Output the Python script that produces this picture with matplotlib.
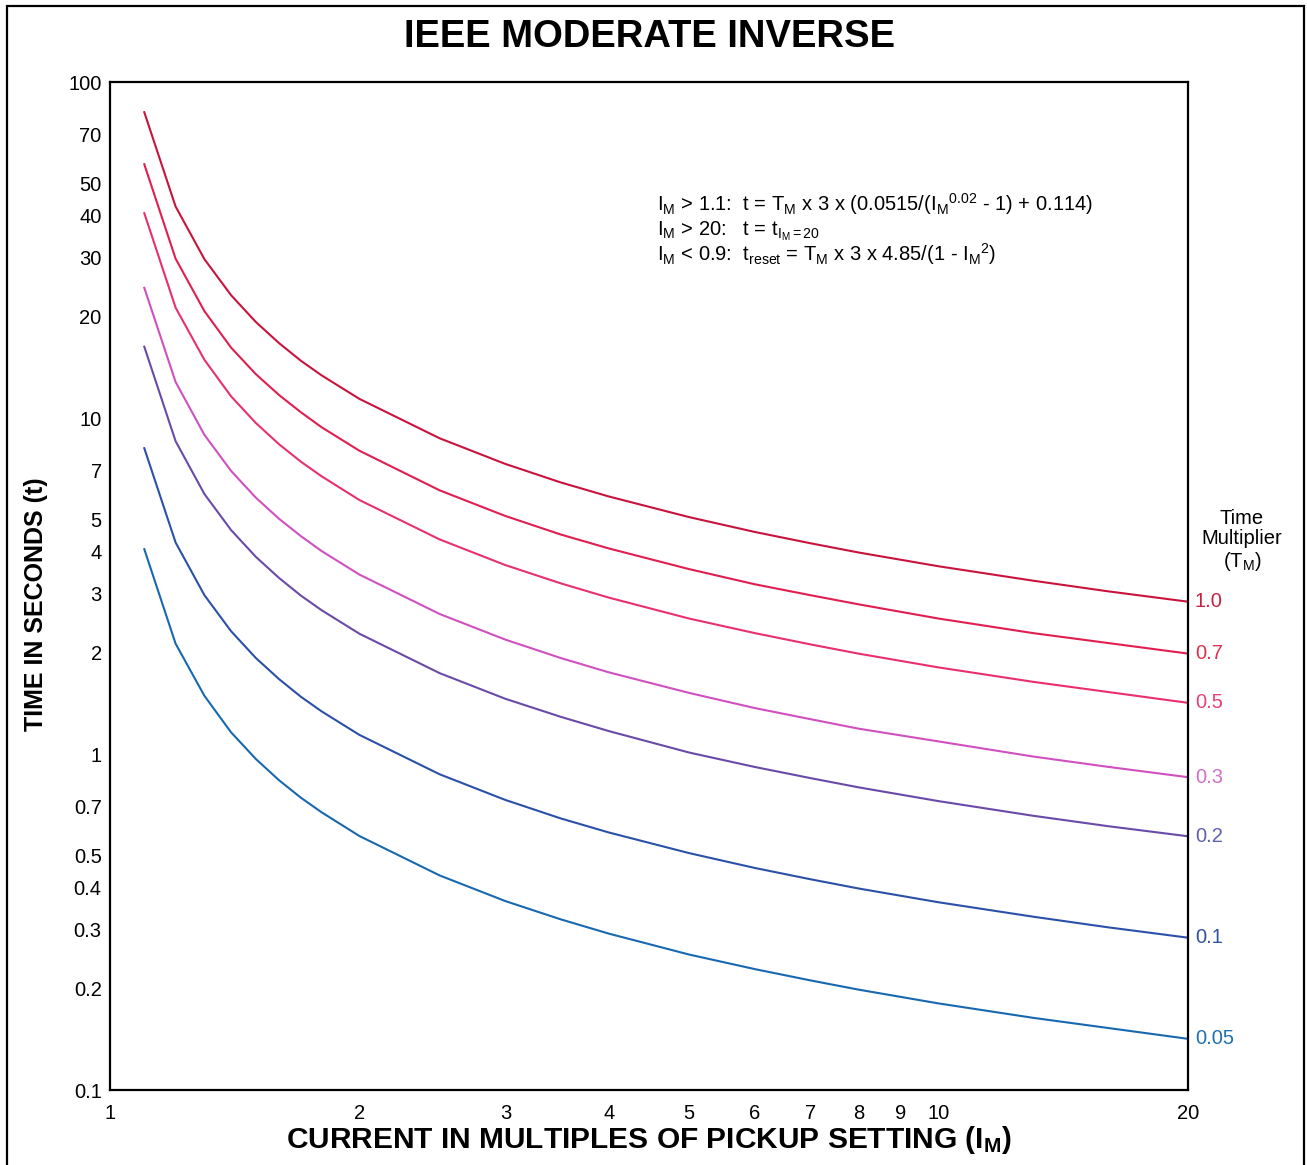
import matplotlib
matplotlib.use("Agg")
import matplotlib.pyplot as plt
from matplotlib.patches import Rectangle

plt.rcParams['font.family'] = ['Liberation Sans', 'DejaVu Sans']
plt.rcParams['mathtext.fontset'] = 'custom'
plt.rcParams['mathtext.rm'] = 'Liberation Sans'
plt.rcParams['mathtext.it'] = 'Liberation Sans'
plt.rcParams['mathtext.bf'] = 'Liberation Sans:bold'

# current in multiples of pickup (I_M)
im = [1.1, 1.2, 1.3, 1.4, 1.5, 1.6, 1.7, 1.8, 2, 2.5, 3, 3.5, 4, 5, 6, 7, 8, 10, 13, 16, 20]

# trip times, one list per time multiplier
t_100 = [81.3, 42.6, 29.7, 23.2, 19.3, 16.7, 14.8, 13.4, 11.4, 8.70, 7.30, 6.43, 5.84, 5.07, 4.58, 4.24, 3.98, 3.62, 3.28, 3.05, 2.84]
t_070 = [56.9, 29.8, 20.8, 16.2, 13.5, 11.7, 10.4, 9.39, 7.99, 6.09, 5.11, 4.50, 4.09, 3.55, 3.20, 2.97, 2.79, 2.53, 2.29, 2.14, 1.99]
t_050 = [40.7, 21.3, 14.9, 11.6, 9.66, 8.35, 7.41, 6.71, 5.70, 4.35, 3.65, 3.22, 2.92, 2.53, 2.29, 2.12, 1.99, 1.81, 1.64, 1.53, 1.42]
t_030 = [24.4, 12.8, 8.91, 6.96, 5.79, 5.01, 4.45, 4.02, 3.42, 2.61, 2.19, 1.93, 1.75, 1.52, 1.37, 1.27, 1.19, 1.09, 0.983, 0.916, 0.853]
t_020 = [16.3, 8.53, 5.94, 4.64, 3.86, 3.34, 2.96, 2.68, 2.28, 1.74, 1.46, 1.29, 1.17, 1.01, 0.915, 0.848, 0.796, 0.724, 0.655, 0.610, 0.569]
t_010 = [8.13, 4.26, 2.97, 2.32, 1.93, 1.67, 1.48, 1.34, 1.14, 0.870, 0.730, 0.643, 0.584, 0.507, 0.458, 0.424, 0.398, 0.362, 0.328, 0.305, 0.284]
t_005 = [4.07, 2.13, 1.49, 1.16, 0.966, 0.835, 0.741, 0.671, 0.570, 0.435, 0.365, 0.322, 0.292, 0.253, 0.229, 0.212, 0.199, 0.181, 0.164, 0.153, 0.142]

tm_labels = ['1.0', '0.7', '0.5', '0.3', '0.2', '0.1', '0.05']
series = [t_100, t_070, t_050, t_030, t_020, t_010, t_005]
line_colors = ['#c8143c', '#e01e50', '#e8306e', '#d050c0', '#6a4aa8', '#2a50a8', '#1868b0']
label_colors = ['#c82040', '#e03050', '#e8407a', '#d070c8', '#6060b0', '#3050a0', '#2070b0']

y_ticks = [0.1, 0.2, 0.3, 0.4, 0.5, 0.7, 1, 2, 3, 4, 5, 7, 10, 20, 30, 40, 50, 70, 100]
y_ticklabels = ['0.1', '0.2', '0.3', '0.4', '0.5', '0.7', '1', '2', '3', '4', '5', '7', '10', '20', '30', '40', '50', '70', '100']
x_ticks = [1, 2, 3, 4, 5, 6, 7, 8, 9, 10, 20]
x_ticklabels = ['1', '2', '3', '4', '5', '6', '7', '8', '9', '10', '20']

W, H = 1307, 1165
fig = plt.figure(figsize=(W / 100, H / 100), dpi=100)
ax = fig.add_axes([110 / W, 1 - 1090 / H, 1078 / W, 1008 / H])

for t, c in zip(series, line_colors):
    ax.plot(im, t, color=c, lw=1.5)

ax.set_xscale('log')
ax.set_yscale('log')
ax.set_xlim(1, 20)
ax.set_ylim(0.1, 100)
ax.set_xticks(x_ticks, x_ticklabels)
ax.set_yticks(y_ticks, y_ticklabels)
ax.minorticks_off()
ax.tick_params(length=0, labelsize=14.5)
ax.tick_params(axis='y', pad=6)
ax.tick_params(axis='x', pad=10)
for s in ax.spines.values():
    s.set_linewidth(1.6)

# time multiplier labels at the right end of each curve
for t, lab, c in zip(series, tm_labels, label_colors):
    ax.annotate(lab, xy=(im[-1], t[-1]), xytext=(5, 0), textcoords='offset points',
                va='center', ha='left', fontsize=14.5, color=c, annotation_clip=False)

fig.text(1242 / W, 1 - 541 / H, 'Time\nMultiplier\n' + r'(T$\mathregular{_M}$)',
         ha='center', va='center', fontsize=14.5, linespacing=1.1)

# equations
fx = 657 / W
fs = 14.5
fig.text(fx, 1 - 211 / H,
         r'I$\mathregular{_M}$ > 1.1:  t = T$\mathregular{_M}$ x 3 x (0.0515/(I$\mathregular{_M}$$\mathregular{^{0.02}}$ - 1) + 0.114)',
         fontsize=fs, va='baseline')
fig.text(fx, 1 - 235 / H,
         r'I$\mathregular{_M}$ > 20:   t = t$\mathregular{_{I_M=20}}$',
         fontsize=fs, va='baseline')
fig.text(fx, 1 - 261 / H,
         r'I$\mathregular{_M}$ < 0.9:  t$\mathregular{_{reset}}$ = T$\mathregular{_M}$ x 3 x 4.85/(1 - I$\mathregular{_M}$$\mathregular{^2}$)',
         fontsize=fs, va='baseline')

fig.text(649 / W, 1 - 37 / H, 'IEEE MODERATE INVERSE', ha='center', va='center',
         fontsize=27.5, fontweight='bold')
fig.text(36 / W, 1 - 604 / H, 'TIME IN SECONDS (t)', ha='center', va='center',
         rotation=90, fontsize=18, fontweight='bold')
fig.text(649 / W, 1 - 1140 / H, r'CURRENT IN MULTIPLES OF PICKUP SETTING (I$\mathbf{_M}$)',
         ha='center', va='center', fontsize=21.5, fontweight='bold')

fig.patches.append(Rectangle((7 / W, -0.01), 1297 / W, 1 - 6 / H + 0.01,
                             transform=fig.transFigure, fill=False, lw=1.6, color='black'))

fig.savefig('out.png', dpi=100)
